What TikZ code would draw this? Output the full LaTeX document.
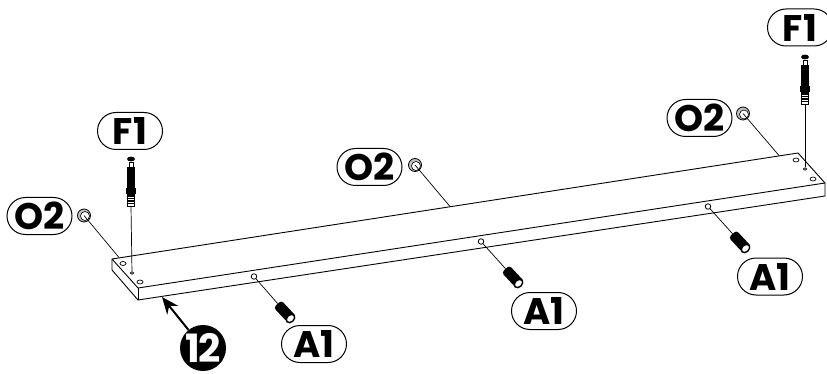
\documentclass[tikz,border=0pt]{standalone}
\usepackage{fontspec}
\setmainfont{Poppins}
\usetikzlibrary{arrows.meta,shapes.geometric,shapes.misc,calc,positioning}
\tikzset{
	partlabel/.style={draw, line width=1pt, rounded rectangle, minimum width=65pt, minimum height=37pt, inner sep=0pt, font=\fontsize{37}{37}\selectfont\bfseries},
	boardline/.style={line width=0.9pt, line join=round},
	leader/.style={line width=0.7pt},
	holemark/.style={draw, ellipse, line width=0.7pt, minimum width=6pt, minimum height=4pt, inner sep=0pt},
	pinhole/.style={draw, ellipse, line width=0.7pt, minimum width=3.5pt, minimum height=2.5pt, inner sep=0pt},
	sidehole/.style={draw, circle, line width=0.8pt, minimum size=5.5pt, inner sep=0pt},
	washerpart/.style={draw, circle, line width=0.8pt, minimum size=13pt, inner sep=0pt, fill=black!25},
	washereye/.style={draw, circle, line width=0.6pt, minimum size=9pt, inner sep=0pt, fill=white},
	dowelbody/.style={fill=black, rounded corners=3pt, minimum width=22pt, minimum height=10.5pt, inner sep=0pt, rotate=-47},
	dowelend/.style={draw, ellipse, line width=1.4pt, minimum width=7pt, minimum height=9.5pt, inner sep=0pt, fill=white, rotate=-47},
	stepnumber/.style={circle, fill=black, minimum size=46pt, inner sep=0pt},
	fscrew/.pic={
		\fill[black] (-2.4,0) rectangle (2.4,2.4);
		\fill[black] (0,0) ellipse (4 and 2.4);
		\draw[line width=0.7pt, fill=white] (-2,3) rectangle (2,8);
		\fill[black] (-4.3,8) rectangle (4.3,30);
		\fill[black] (-5.3,29) rectangle (5.3,35);
		\draw[line width=0.7pt, fill=white] (-3.2,35) rectangle (3.2,47);
		\foreach \ty in {37,39.5,42,44.5} {
			\draw[black, line width=1.1pt] (-3.2,\ty) -- (3.2,\ty);
		}
		\coordinate (-tip) at (0,47);
	},
}
\begin{document}
\begin{tikzpicture}[x=1pt, y=-1pt]
	\useasboundingbox (0,0) rectangle (827,374);
	% board
	\coordinate (backleft) at (112,259);
	\coordinate (backright) at (798,153);
	\coordinate (frontleft) at (138,288);
	\coordinate (frontright) at (825,183);
	\coordinate (lowleft) at (112,270);
	\coordinate (lowfront) at (138,300);
	\coordinate (lowright) at (825,196);
	\draw[boardline] (backleft) -- (backright) -- (frontright) -- (frontleft) -- cycle;
	\draw[boardline] (backleft) -- (lowleft) -- (lowfront) -- (lowright) -- (frontright);
	\draw[boardline] (frontleft) -- (lowfront);

	% holes on top of the board
	\node[holemark] (holeA) at (123,263.5) {};
	\node[pinhole] (pinleft) at (132,273) {};
	\node[holemark] (holeB) at (140,282) {};
	\node[holemark] (holeC) at (796,160) {};
	\node[pinhole] (pinright) at (805,169) {};
	\node[holemark] (holeD) at (813,179) {};

	% holes in the long side
	\node[sidehole] (sideleft) at (254,276.5) {};
	\node[sidehole] (sidemid) at (481,241.5) {};
	\node[sidehole] (sideright) at (708,206.5) {};

	% dowels
	\node[dowelbody] (dowelleft) at (285,312) {};
	\node[dowelbody] (dowelmid) at (513,277) {};
	\node[dowelbody] (dowelright) at (740,242) {};
	\node[dowelend] at (290.5,318.5) {};
	\node[dowelend] at (518.5,283.5) {};
	\node[dowelend] at (745.5,248.5) {};
	\draw[leader] (sideleft) -- (dowelleft);
	\draw[leader] (sidemid) -- (dowelmid);
	\draw[leader] (sideright) -- (dowelright);

	% washers
	\node[washerpart] (washerleft) at (84,215.5) {};
	\node[washerpart] (washermid) at (415,165) {};
	\node[washerpart] (washerright) at (743,113.5) {};
	\node[washereye] at (85,216) {};
	\node[washereye] at (416,166) {};
	\node[washereye] at (744,114.5) {};
	\coordinate (edgeleft) at (119,257.5);
	\coordinate (edgemid) at (450,206.5);
	\coordinate (edgeright) at (779,155.5);
	\draw[leader] (washerleft.center) -- (edgeleft);
	\draw[leader] (washermid.center) -- (edgemid);
	\draw[leader] (washerright.center) -- (edgeright);

	% screws
	\pic (screwleft) at (131,159) {fscrew};
	\pic (screwright) at (805,57) {fscrew};
	\draw[leader] (screwleft-tip) -- (pinleft);
	\draw[leader] (screwright-tip) -- (pinright);

	% labels
	\node[partlabel] (labelFa) at (130,131) {F1};
	\node[partlabel] (labelFb) at (800,27.5) {F1};
	\node[partlabel] (labelOa) at (39.5,216) {O2};
	\node[partlabel] (labelOb) at (369.5,167) {O2};
	\node[partlabel] (labelOc) at (699.5,118) {O2};
	\node[partlabel] (labelAa) at (314,344) {A1};
	\node[partlabel] (labelAb) at (544,311) {A1};
	\node[partlabel] (labelAc) at (770,276.5) {A1};

	% step number
	\node[stepnumber] (stepnum) at (203,348) {};
	\node[font=\fontsize{39}{39}\selectfont\bfseries, text=white, inner sep=0pt] at (stepnum) {1\kern-2pt 2};
	\draw[line width=2pt, -{Stealth[length=17pt, width=14pt]}] (stepnum) -- (162,297);
\end{tikzpicture}
\end{document}
